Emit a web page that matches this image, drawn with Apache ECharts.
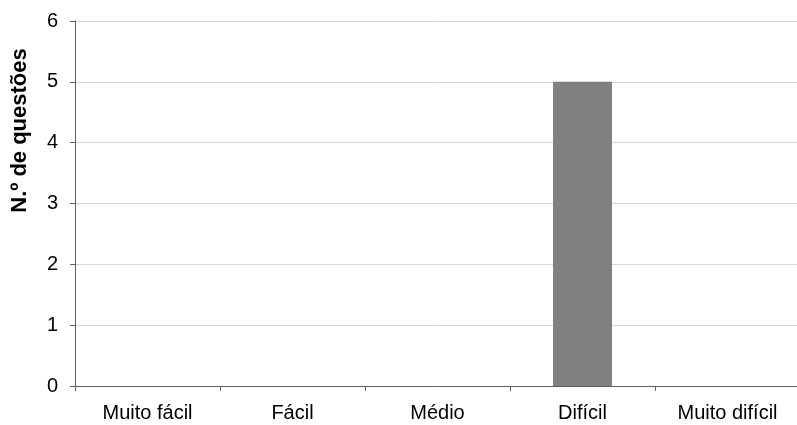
<!DOCTYPE html>
<html>
<head>
<meta charset="utf-8">
<script src="https://cdn.jsdelivr.net/npm/echarts@6/dist/echarts.min.js"></script>
<style>html,body{margin:0;padding:0;background:#fff;}#c{width:797px;height:425px;}</style>
</head>
<body>
<div id="c"></div>
<script>
const categories = ["Muito fácil", "Fácil", "Médio", "Difícil", "Muito difícil"];
const values = [0, 0, 0, 5, 0];
const yName = "N.º de questões";

const chart = echarts.init(document.getElementById('c'), null, {renderer: 'canvas'});
chart.setOption({
  animation: false,
  backgroundColor: '#ffffff',
  grid: {left: 75, width: 725, top: 21, height: 365, containLabel: false, outerBoundsMode: 'none'},
  xAxis: {
    type: 'category',
    data: categories,
    axisLine: {lineStyle: {color: '#606060', width: 1}},
    axisTick: {show: true, length: 5, lineStyle: {color: '#606060'}},
    axisLabel: {color: '#000', fontFamily: 'Liberation Sans, Arial', fontSize: 20, margin: 17},
    splitLine: {show: false}
  },
  yAxis: {
    type: 'value',
    min: 0, max: 6, interval: 1,
    name: yName,
    nameLocation: 'middle',
    nameRotate: 90,
    nameGap: 44,
    nameTextStyle: {color: '#000', fontFamily: 'Liberation Sans, Arial', fontSize: 22, fontWeight: 'bold', padding: [0, 0, 0, 146]},
    axisLine: {show: true, lineStyle: {color: '#606060', width: 1}},
    axisTick: {show: true, length: 5, lineStyle: {color: '#606060'}},
    axisLabel: {color: '#000', fontFamily: 'Liberation Sans, Arial', fontSize: 20, margin: 17},
    splitLine: {show: true, lineStyle: {color: '#d6d6d6', width: 1}}
  },
  series: [{
    type: 'bar',
    data: values,
    barWidth: '40.7%',
    itemStyle: {color: '#808080'}
  }]
});
</script>
</body>
</html>
